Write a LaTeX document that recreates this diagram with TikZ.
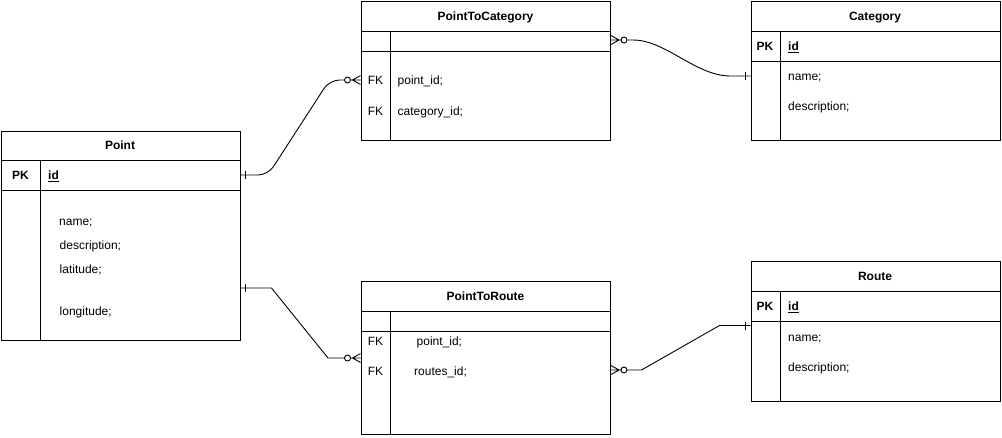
\documentclass[tikz,border=0pt]{standalone}
\usepackage{fontspec}
\setmainfont{Liberation Sans}
\usetikzlibrary{calc}
\begin{document}
\begin{tikzpicture}[x=1pt,y=-1pt,
  font=\fontsize{12}{14}\selectfont,
  frame/.style={draw, line width=1pt, rectangle, inner sep=0pt, anchor=north west},
  sep/.style={line width=1pt},
  conn/.style={line width=0.9pt},
  txt/.style={inner sep=0pt, text height=8.6pt, text depth=0pt},
  ttl/.style={txt, font=\fontsize{12}{14}\selectfont\bfseries, anchor=center},
  key/.style={txt, font=\fontsize{12}{14}\selectfont\bfseries, anchor=center},
  fk/.style={txt, anchor=center},
  fld/.style={txt, anchor=west},
]
\useasboundingbox (0,0) rectangle (1002,437);

% ---------- Point ----------
\node[frame, minimum width=239.5pt, minimum height=209.5pt] (point) at (0.5,130.5) {};
\draw[sep] (0.5,160) -- (240,160) (0.5,190) -- (240,190) (40.5,160) -- (40.5,340);
\node[ttl] (point-t) at (120,145) {Point};
\node[key] (point-pk) at (20.5,175) {PK};
\node[fld, font=\fontsize{12}{14}\selectfont\bfseries] (point-id) at (48,175) {\underline{id}};
\node[fld] (point-f1) at (59,221) {name;};
\node[fld] (point-f2) at (59.5,245.5) {description;};
\node[fld] (point-f3) at (59.5,269.5) {latitude;};
\node[fld] (point-f4) at (59.5,311) {longitude;};

% ---------- PointToCategory ----------
\node[frame, minimum width=249.5pt, minimum height=139pt] (ptc) at (360.5,1) {};
\draw[sep] (360.5,31) -- (610,31) (360.5,51) -- (610,51) (390.5,31) -- (390.5,140);
\node[ttl] (ptc-t) at (485.5,16) {PointToCategory};
\node[fk] (ptc-k1) at (375.5,80) {FK};
\node[fk] (ptc-k2) at (375.5,111) {FK};
\node[fld] (ptc-f1) at (397.5,80) {point\_id;};
\node[fld] (ptc-f2) at (397.5,111) {category\_id;};

% ---------- Category ----------
\node[frame, minimum width=249.5pt, minimum height=139pt] (cat) at (750.5,1) {};
\draw[sep] (750.5,31) -- (1000,31) (750.5,61) -- (1000,61) (780.5,31) -- (780.5,140);
\node[ttl] (cat-t) at (875,16) {Category};
\node[key] (cat-pk) at (765,46) {PK};
\node[fld, font=\fontsize{12}{14}\selectfont\bfseries] (cat-id) at (788,46) {\underline{id}};
\node[fld] (cat-f1) at (788,76) {name;};
\node[fld] (cat-f2) at (788,106.5) {description;};

% ---------- PointToRoute ----------
\node[frame, minimum width=249.5pt, minimum height=153pt] (ptr) at (360.5,281) {};
\draw[sep] (360.5,311) -- (610,311) (360.5,331) -- (610,331) (390.5,311) -- (390.5,434);
\node[ttl] (ptr-t) at (485.5,296) {PointToRoute};
\node[fk] (ptr-k1) at (375.5,341) {FK};
\node[fk] (ptr-k2) at (375.5,371) {FK};
\node[fld] (ptr-f1) at (416.5,341) {point\_id;};
\node[fld] (ptr-f2) at (414,371) {routes\_id;};

% ---------- Route ----------
\node[frame, minimum width=249.5pt, minimum height=139.5pt] (route) at (750.5,261) {};
\draw[sep] (750.5,291) -- (1000,291) (750.5,321) -- (1000,321) (780.5,291) -- (780.5,400.5);
\node[ttl] (route-t) at (875,276) {Route};
\node[key] (route-pk) at (765,306) {PK};
\node[fld, font=\fontsize{12}{14}\selectfont\bfseries] (route-id) at (788,306) {\underline{id}};
\node[fld] (route-f1) at (788,337) {name;};
\node[fld] (route-f2) at (788,367) {description;};

% ---------- connection points ----------
\coordinate (c1a) at ($(point.north east)+(0,44.5)$);
\coordinate (c1b) at ($(ptc.north west)+(0,79)$);
\coordinate (c2a) at ($(ptc.north east)+(0,39)$);
\coordinate (c2b) at ($(cat.north west)+(0,75)$);
\coordinate (c3a) at ($(point.north east)+(0,157.5)$);
\coordinate (c3b) at ($(ptr.north west)+(0,77)$);
\coordinate (c4a) at ($(ptr.north east)+(0,89)$);
\coordinate (c4b) at ($(route.north west)+(0,64.5)$);

% ---------- connector 1: Point -> PointToCategory ----------
\draw[conn, rounded corners=10pt] (c1a) -- ($(c1a)+(27,0)$) -- ($(c1b)+(-31,0)$) -- ($(c1b)+(-16,0)$);
\draw[conn] ($(c1a)+(4,-4)$) -- ($(c1a)+(4,4)$);
\draw[conn] ($(c1b)+(-13,0)$) circle (3pt);
\draw[conn] ($(c1b)+(-10,0)$) -- (c1b)
  ($(c1b)+(-8,0)$) -- ($(c1b)+(0,-4.5)$)
  ($(c1b)+(-8,0)$) -- ($(c1b)+(0,4.5)$);

% ---------- connector 2: PointToCategory -> Category ----------
\draw[conn] ($(c2a)+(16,0)$) -- ($(c2a)+(22,0)$) .. controls ($(c2a)+(55,0)$) and ($(c2b)+(-55,0)$) .. ($(c2b)+(-20,0)$) -- (c2b);
\draw[conn] ($(c2b)+(-5,-4)$) -- ($(c2b)+(-5,4)$);
\draw[conn] ($(c2a)+(13,0)$) circle (3pt);
\draw[conn] (c2a) -- ($(c2a)+(10,0)$)
  ($(c2a)+(8,0)$) -- ($(c2a)+(0,-4.5)$)
  ($(c2a)+(8,0)$) -- ($(c2a)+(0,4.5)$);

% ---------- connector 3: Point -> PointToRoute ----------
\draw[conn] (c3a) -- ($(c3a)+(30.5,0)$) -- ($(c3b)+(-32.5,0)$) -- ($(c3b)+(-16,0)$);
\draw[conn] ($(c3a)+(4,-4)$) -- ($(c3a)+(4,4)$);
\draw[conn] ($(c3b)+(-13,0)$) circle (3pt);
\draw[conn] ($(c3b)+(-10,0)$) -- (c3b)
  ($(c3b)+(-8,0)$) -- ($(c3b)+(0,-4.5)$)
  ($(c3b)+(-8,0)$) -- ($(c3b)+(0,4.5)$);

% ---------- connector 4: PointToRoute -> Route ----------
\draw[conn] ($(c4a)+(16,0)$) -- ($(c4a)+(30.5,0)$) -- ($(c4b)+(-31,0)$) -- (c4b);
\draw[conn] ($(c4b)+(-5,-4)$) -- ($(c4b)+(-5,4)$);
\draw[conn] ($(c4a)+(13,0)$) circle (3pt);
\draw[conn] (c4a) -- ($(c4a)+(10,0)$)
  ($(c4a)+(8,0)$) -- ($(c4a)+(0,-4.5)$)
  ($(c4a)+(8,0)$) -- ($(c4a)+(0,4.5)$);
\end{tikzpicture}
\end{document}
